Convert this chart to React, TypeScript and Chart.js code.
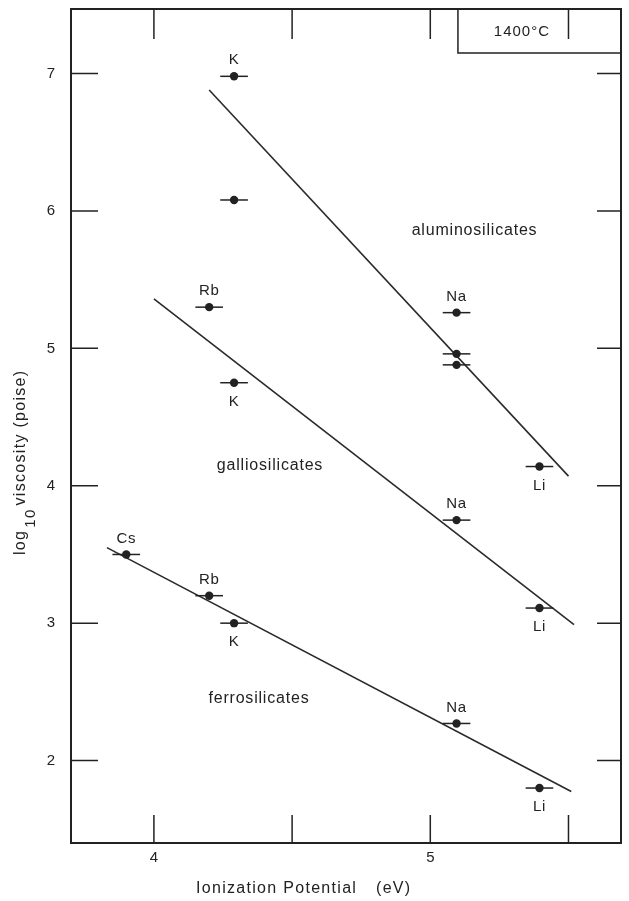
import React, { useEffect, useRef } from "react";
import { Chart, registerables } from "chart.js";

Chart.register(...registerables);

// ---- axis ticks ----
const xTickLabels = [4, 5];
const xTickMarks = [4, 4.5, 5, 5.5];
const yTickLabels = [2, 3, 4, 5, 6, 7];
const xRange = [3.7, 5.69];
const yRange = [1.4, 7.47];

// ---- aluminosilicates ----
const aluX = [4.29, 4.29, 5.095, 5.095, 5.095, 5.395];
const aluY = [6.98, 6.08, 5.26, 4.96, 4.88, 4.14];
const aluLabels = ["K", "", "Na", "", "", "Li"];
const aluLabelPos = ["above", "", "above", "", "", "below"];
const aluFitX = [4.2, 5.5];
const aluFitY = [6.88, 4.07];

// ---- galliosilicates ----
const galX = [4.2, 4.29, 5.095, 5.395];
const galY = [5.3, 4.75, 3.75, 3.11];
const galLabels = ["Rb", "K", "Na", "Li"];
const galLabelPos = ["above", "below", "above", "below"];
const galFitX = [4.0, 5.52];
const galFitY = [5.36, 2.99];

// ---- ferrosilicates ----
const ferX = [3.9, 4.2, 4.29, 5.095, 5.395];
const ferY = [3.5, 3.2, 3.0, 2.27, 1.8];
const ferLabels = ["Cs", "Rb", "K", "Na", "Li"];
const ferLabelPos = ["above", "above", "below", "above", "below"];
const ferFitX = [3.83, 5.51];
const ferFitY = [3.55, 1.775];

const xErr = 0.05;

// ---- region names ----
const regionNames = ["aluminosilicates", "galliosilicates", "ferrosilicates"];
const regionX = [5.16, 4.42, 4.38];
const regionY = [5.855, 4.145, 2.45];

// ---- temperature box ----
const boxText = "1400°C";
const boxCorner = [5.1, 7.15];

const xTitle1 = "Ionization Potential";
const xTitle2 = "(eV)";
const yTitleMain = "log";
const yTitleSub = "10";
const yTitleRest = "viscosity (poise)";

const FONT = '"Liberation Sans", Arial, Helvetica, sans-serif';
const INK = "#222";

const pts = (xs: number[], ys: number[]) => xs.map((x, i) => ({ x, y: ys[i] }));

const groups = [
  { xs: aluX, ys: aluY, labels: aluLabels, pos: aluLabelPos },
  { xs: galX, ys: galY, labels: galLabels, pos: galLabelPos },
  { xs: ferX, ys: ferY, labels: ferLabels, pos: ferLabelPos },
];

const decorPlugin = {
  id: "decor",
  afterDatasetsDraw(chart: any) {
    const ctx = chart.ctx as CanvasRenderingContext2D;
    const xs = chart.scales.x;
    const ys = chart.scales.y;
    const { left, right, top, bottom } = chart.chartArea;
    ctx.save();
    ctx.strokeStyle = INK;
    ctx.fillStyle = INK;

    // error bars
    ctx.lineWidth = 1.5;
    groups.forEach((g) => {
      g.xs.forEach((x, i) => {
        const py = ys.getPixelForValue(g.ys[i]);
        ctx.beginPath();
        ctx.moveTo(xs.getPixelForValue(x - xErr), py);
        ctx.lineTo(xs.getPixelForValue(x + xErr), py);
        ctx.stroke();
      });
    });

    // point labels
    ctx.font = `15px ${FONT}`;
    (ctx as any).letterSpacing = "0.6px";
    ctx.textAlign = "center";
    ctx.textBaseline = "middle";
    groups.forEach((g) => {
      g.xs.forEach((x, i) => {
        if (!g.labels[i]) return;
        const px = xs.getPixelForValue(x);
        const py = ys.getPixelForValue(g.ys[i]);
        const dy = g.pos[i] === "above" ? -16 : 19;
        ctx.fillText(g.labels[i], px, py + dy);
      });
    });

    // region names
    ctx.font = `16px ${FONT}`;
    (ctx as any).letterSpacing = "0.8px";
    regionNames.forEach((n, i) => {
      ctx.fillText(n, xs.getPixelForValue(regionX[i]), ys.getPixelForValue(regionY[i]));
    });

    // frame
    ctx.lineWidth = 2;
    ctx.strokeRect(left, top, right - left, bottom - top);

    // inward ticks
    ctx.lineWidth = 1.5;
    xTickMarks.forEach((v) => {
      const px = xs.getPixelForValue(v);
      ctx.beginPath();
      ctx.moveTo(px, bottom);
      ctx.lineTo(px, bottom - 28);
      ctx.moveTo(px, top);
      ctx.lineTo(px, top + 30);
      ctx.stroke();
    });
    yTickLabels.forEach((v) => {
      const py = ys.getPixelForValue(v);
      ctx.beginPath();
      ctx.moveTo(left, py);
      ctx.lineTo(left + 27, py);
      ctx.moveTo(right, py);
      ctx.lineTo(right - 24, py);
      ctx.stroke();
    });

    // temperature box
    const bx = xs.getPixelForValue(boxCorner[0]);
    const by = ys.getPixelForValue(boxCorner[1]);
    ctx.lineWidth = 1.5;
    ctx.beginPath();
    ctx.moveTo(bx, top);
    ctx.lineTo(bx, by);
    ctx.lineTo(right, by);
    ctx.stroke();
    ctx.font = `15px ${FONT}`;
    (ctx as any).letterSpacing = "1px";
    ctx.fillText(boxText, bx + 64, (top + by) / 2 + 1);

    ctx.restore();

    // axis titles
    ctx.save();
    ctx.fillStyle = INK;
    ctx.font = `16px ${FONT}`;
    (ctx as any).letterSpacing = "1.3px";
    ctx.textAlign = "left";
    ctx.textBaseline = "alphabetic";
    ctx.fillText(xTitle1, 196, 893);
    ctx.fillText(xTitle2, 376, 893);

    ctx.translate(25, 555);
    ctx.rotate(-Math.PI / 2);
    ctx.fillText(yTitleMain, 0, 0);
    const w1 = ctx.measureText(yTitleMain).width;
    ctx.font = `15px ${FONT}`;
    ctx.fillText(yTitleSub, w1 + 2, 10);
    const w2 = ctx.measureText(yTitleSub).width;
    ctx.font = `16px ${FONT}`;
    ctx.fillText(yTitleRest, w1 + w2 + 5, 0);
    ctx.restore();
  },
};

export default function App() {
  const ref = useRef<HTMLCanvasElement | null>(null);
  useEffect(() => {
    document.body.style.margin = "0";
    const canvas = ref.current!;
    const tickFont = { family: FONT, size: 15 };
    const chart = new Chart(canvas, {
      type: "scatter",
      data: {
        datasets: [
          ...groups.map((g) => ({
            data: pts(g.xs, g.ys),
            pointRadius: 4.2,
            pointBackgroundColor: "#222",
            pointBorderWidth: 0,
            showLine: false,
          })),
          ...[
            [aluFitX, aluFitY],
            [galFitX, galFitY],
            [ferFitX, ferFitY],
          ].map(([fx, fy]) => ({
            data: pts(fx, fy),
            showLine: true,
            pointRadius: 0,
            borderColor: "#2a2a2a",
            borderWidth: 1.6,
            fill: false,
          })),
        ],
      } as any,
      options: {
        responsive: false,
        animation: false,
        devicePixelRatio: 1,
        layout: { padding: { left: 0, right: 8, top: 9, bottom: 0 } },
        plugins: { legend: { display: false }, tooltip: { enabled: false } },
        scales: {
          x: {
            type: "linear",
            min: xRange[0],
            max: xRange[1],
            grid: { display: false, drawTicks: false },
            border: { display: false },
            afterBuildTicks: (s: any) => {
              s.ticks = xTickLabels.map((v) => ({ value: v }));
            },
            afterFit: (s: any) => {
              s.height = 58;
              s.paddingLeft = 0;
              s.paddingRight = 0;
            },
            ticks: {
              font: tickFont,
              color: INK,
              padding: 6,
              autoSkip: false,
              maxRotation: 0,
              callback: (v: any) => String(v),
            },
          },
          y: {
            type: "linear",
            min: yRange[0],
            max: yRange[1],
            grid: { display: false, drawTicks: false },
            border: { display: false },
            afterBuildTicks: (s: any) => {
              s.ticks = yTickLabels.map((v) => ({ value: v }));
            },
            afterFit: (s: any) => {
              s.width = 71;
              s.paddingTop = 0;
              s.paddingBottom = 0;
            },
            ticks: {
              font: tickFont,
              color: INK,
              padding: 16,
              autoSkip: false,
              callback: (v: any) => String(v),
            },
          },
        },
      } as any,
      plugins: [decorPlugin],
    });
    return () => chart.destroy();
  }, []);
  return (
    <div style={{ position: "absolute", left: 0, top: 0, width: 629, height: 901, background: "#fff" }}>
      <canvas ref={ref} width={629} height={901} style={{ display: "block" }} />
    </div>
  );
}
